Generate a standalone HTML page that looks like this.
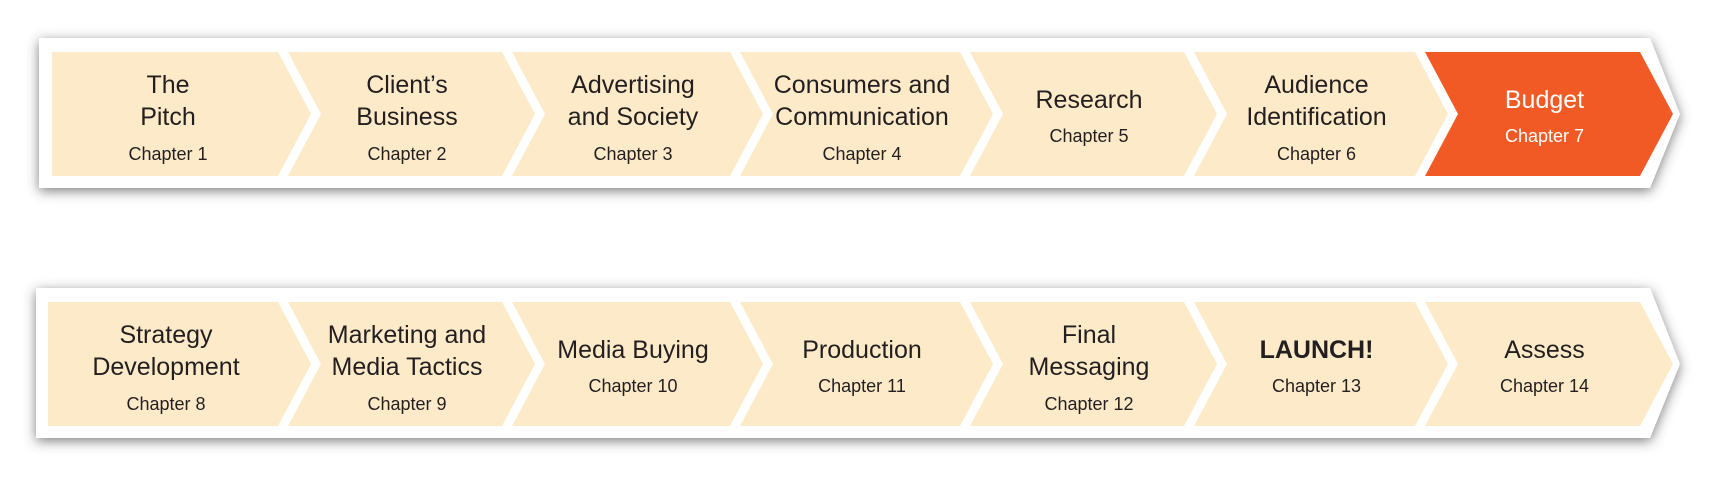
<!DOCTYPE html>
<html><head><meta charset="utf-8"><style>
html,body{margin:0;padding:0;background:#fff;}
svg{display:block;}
text{font-family:"Liberation Sans",sans-serif;fill:#231f20;text-anchor:middle;}
.t{font-size:25px;}
.c{font-size:18px;}
</style></head><body>
<svg id="chart" width="1721" height="478" viewBox="0 0 1721 478" xmlns="http://www.w3.org/2000/svg">
<defs><filter id="sh" x="-5%" y="-30%" width="110%" height="160%"><feDropShadow dx="0" dy="3" stdDeviation="6" flood-color="#444" flood-opacity="0.7"/></filter></defs>
<g id="rows"></g>
</svg>
<script>
const rowTitles = [
 [["The","Pitch"],["Client’s","Business"],["Advertising","and Society"],["Consumers and","Communication"],["Research"],["Audience","Identification"],["Budget"]],
 [["Strategy","Development"],["Marketing and","Media Tactics"],["Media Buying"],["Production"],["Final","Messaging"],["LAUNCH!"],["Assess"]]
];
const chapters = [[1,2,3,4,5,6,7],[8,9,10,11,12,13,14]];
const highlighted = [7];
const bold = [13];
const rights = [278,502,730,960,1184,1415,1640];
const NS="http://www.w3.org/2000/svg";
const root=document.getElementById('rows');
function mk(tag,attrs){const e=document.createElementNS(NS,tag);for(const k in attrs)e.setAttribute(k,attrs[k]);return e;}
for(let r=0;r<2;r++){
  const off=r*250;
  const y0=52+off,y1=176+off,ym=114+off;
  const g=mk('g',{});
  
  
  root.appendChild(g);
  const bl=r?36:39;
  const band=mk('polygon',{points:`${bl},${38+off} 1650,${38+off} 1680,${ym} 1650,${188+off} ${bl},${188+off}`,fill:'#fff',filter:'url(#sh)'});
  
  
  g.appendChild(band);
  for(let i=0;i<7;i++){
    const R=rights[i];
    const L=i===0?(r?48:52):rights[i-1]+10;
    const notch=i===0?L:L+33;
    const ch=chapters[r][i];
    const hi=highlighted.includes(ch);
    const step=mk('g',{});
    
    
    g.appendChild(step);
    const p=mk('polygon',{points:`${L},${y0} ${R},${y0} ${R+33},${ym} ${R},${y1} ${L},${y1} ${notch},${ym}`,fill:hi?'#f15a24':'#fdeac8'});
    
    
    step.appendChild(p);
    const cx=i===0?(L+R)/2+3:(L+R)/2+12;
    const lines=rowTitles[r][i];
    const base=lines.length===2?[93+off,125+off]:[108+off];
    const chapY=lines.length===2?160+off:142+off;
    lines.forEach((ln,k)=>{
      const t=mk('text',{x:cx,y:base[k],class:'t'});
      if(hi)t.style.fill='#fff';
      if(bold.includes(ch))t.style.fontWeight='bold';
      t.textContent=ln;
      
      
      step.appendChild(t);
    });
    const c=mk('text',{x:cx,y:chapY,class:'c'});
    if(hi)c.style.fill='#fff';
    c.textContent='Chapter '+ch;
    
    
    step.appendChild(c);
  }
}
</script>
</body></html>
